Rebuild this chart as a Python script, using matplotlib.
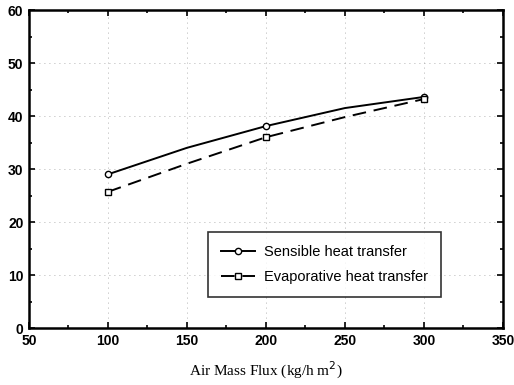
import matplotlib
matplotlib.use("Agg")
import matplotlib.pyplot as plt
from matplotlib.ticker import MultipleLocator

# data (markers at 100/200/300, midpoints for the curve shape)
air_flux = [100, 150, 200, 250, 300]
sensible = [29.0, 34.0, 38.1, 41.5, 43.6]
evaporative = [25.7, 31.0, 36.0, 39.8, 43.2]
marker_every = [0, 2, 4]

plt.rcParams['font.family'] = ['Liberation Sans', 'DejaVu Sans']

fig = plt.figure(figsize=(5.14, 3.85), dpi=100)
ax = fig.add_axes([0.0564, 0.148, 0.922, 0.826])

ax.plot(air_flux, sensible, color="black", linewidth=1.4, marker="o",
        markersize=4.5, markerfacecolor="white", markevery=marker_every,
        label="Sensible heat transfer")
ax.plot(air_flux, evaporative, color="black", linewidth=1.4, linestyle=(0, (7, 4)),
        marker="s", markersize=4.5, markerfacecolor="white", markevery=marker_every,
        label="Evaporative heat transfer")

ax.set_xlim(50, 350)
ax.set_ylim(0, 60)
ax.xaxis.set_major_locator(MultipleLocator(50))
ax.xaxis.set_minor_locator(MultipleLocator(25))
ax.yaxis.set_major_locator(MultipleLocator(10))
ax.yaxis.set_minor_locator(MultipleLocator(5))
ax.tick_params(which="both", direction="in", top=True, right=True, width=1.2)
ax.tick_params(which="major", length=4, labelsize=10, pad=4)
ax.tick_params(which="minor", length=2.5)
for lbl in ax.get_xticklabels() + ax.get_yticklabels():
    lbl.set_fontweight("bold")
for sp in ax.spines.values():
    sp.set_linewidth(1.8)

ax.grid(True, which="major", linestyle=(0, (1, 5)), color="#999999", linewidth=0.6)

ax.set_xlabel("Air Mass Flux (kg/h m$^2$)", family="Liberation Serif",
              fontsize=11, labelpad=9)

leg = ax.legend(loc="lower right", bbox_to_anchor=(0.869, 0.0975), fontsize=10.5,
                frameon=True, fancybox=False, edgecolor="black", handlelength=2.3,
                handletextpad=0.6, borderpad=0.9, labelspacing=0.75, borderaxespad=0)
leg.get_frame().set_linewidth(1.2)

fig.savefig("out.png", dpi=100)
